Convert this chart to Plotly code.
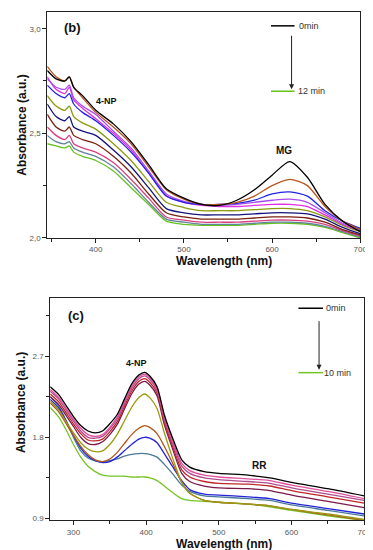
import plotly.graph_objects as go

W, H = 373, 550

# ---------- Panel (b) data ----------
wl_b = [345, 355, 365, 370, 375, 385, 400, 420, 440, 460, 480, 500, 520, 540, 560, 580, 600, 620, 640, 660, 680, 700]
b_black   = [2.80, 2.76, 2.75, 2.77, 2.72, 2.68, 2.61, 2.545, 2.46, 2.35, 2.235, 2.19, 2.16, 2.155, 2.18, 2.23, 2.30, 2.365, 2.29, 2.16, 2.08, 2.03]
b_brown   = [2.82, 2.77, 2.75, 2.77, 2.72, 2.67, 2.60, 2.53, 2.45, 2.34, 2.23, 2.185, 2.16, 2.16, 2.17, 2.20, 2.25, 2.28, 2.25, 2.15, 2.08, 2.04]
b_blue    = [2.73, 2.69, 2.67, 2.69, 2.64, 2.60, 2.56, 2.49, 2.41, 2.31, 2.20, 2.17, 2.16, 2.16, 2.165, 2.18, 2.21, 2.22, 2.20, 2.13, 2.08, 2.045]
b_violet  = [2.76, 2.72, 2.71, 2.73, 2.67, 2.63, 2.59, 2.51, 2.43, 2.32, 2.21, 2.175, 2.16, 2.155, 2.16, 2.17, 2.18, 2.185, 2.17, 2.12, 2.07, 2.04]
b_magenta = [2.77, 2.71, 2.69, 2.72, 2.66, 2.62, 2.57, 2.50, 2.42, 2.31, 2.20, 2.17, 2.155, 2.15, 2.15, 2.155, 2.16, 2.16, 2.15, 2.11, 2.065, 2.035]
b_olive   = [2.68, 2.63, 2.61, 2.63, 2.58, 2.55, 2.52, 2.45, 2.37, 2.27, 2.17, 2.145, 2.13, 2.13, 2.13, 2.135, 2.14, 2.14, 2.13, 2.10, 2.06, 2.03]
b_navy    = [2.64, 2.58, 2.56, 2.58, 2.53, 2.51, 2.49, 2.42, 2.34, 2.24, 2.14, 2.12, 2.11, 2.11, 2.11, 2.115, 2.12, 2.12, 2.115, 2.09, 2.05, 2.02]
b_maroon  = [2.59, 2.53, 2.51, 2.53, 2.49, 2.47, 2.45, 2.39, 2.31, 2.21, 2.12, 2.10, 2.09, 2.09, 2.09, 2.095, 2.10, 2.10, 2.095, 2.075, 2.04, 2.015]
b_pink    = [2.53, 2.49, 2.47, 2.49, 2.45, 2.43, 2.41, 2.36, 2.28, 2.19, 2.10, 2.085, 2.075, 2.075, 2.075, 2.08, 2.085, 2.085, 2.08, 2.065, 2.035, 2.01]
b_gray    = [2.49, 2.46, 2.45, 2.46, 2.43, 2.41, 2.39, 2.34, 2.26, 2.17, 2.09, 2.075, 2.065, 2.065, 2.065, 2.07, 2.075, 2.075, 2.07, 2.055, 2.03, 2.005]
b_green   = [2.45, 2.44, 2.43, 2.44, 2.41, 2.39, 2.37, 2.32, 2.24, 2.16, 2.08, 2.065, 2.06, 2.06, 2.06, 2.065, 2.07, 2.07, 2.065, 2.05, 2.025, 2.0]

b_series = [b_black, b_brown, b_blue, b_violet, b_magenta, b_olive, b_navy, b_maroon, b_pink, b_gray, b_green]
b_colors = ["#000000", "#b8561e", "#2323e6", "#a84cf0", "#e030e0", "#8c9a10", "#14147e", "#7a2010", "#d8407e", "#60849c", "#66c21e"]

# ---------- Panel (c) data ----------
wl_c = [268, 280, 290, 300, 310, 320, 330, 340, 350, 360, 370, 380, 390, 398, 405, 415, 425, 436, 449, 460, 480, 500, 540, 570, 600, 650, 700]
c_black  = [2.36, 2.27, 2.15, 2.03, 1.93, 1.87, 1.85, 1.87, 1.95, 2.05, 2.22, 2.39, 2.49, 2.52, 2.48, 2.36, 2.05, 1.80, 1.55, 1.47, 1.42, 1.40, 1.38, 1.35, 1.30, 1.23, 1.15]
c_pink   = [2.33, 2.24, 2.12, 2.00, 1.90, 1.83, 1.81, 1.83, 1.91, 2.02, 2.19, 2.36, 2.47, 2.50, 2.46, 2.34, 2.03, 1.77, 1.51, 1.43, 1.38, 1.36, 1.34, 1.32, 1.27, 1.20, 1.12]
c_mauve  = [2.31, 2.22, 2.10, 1.98, 1.87, 1.80, 1.79, 1.81, 1.89, 2.00, 2.17, 2.34, 2.45, 2.48, 2.44, 2.32, 2.00, 1.74, 1.48, 1.40, 1.35, 1.33, 1.31, 1.29, 1.24, 1.17, 1.10]
c_red    = [2.28, 2.19, 2.07, 1.95, 1.84, 1.77, 1.76, 1.78, 1.86, 1.97, 2.14, 2.31, 2.42, 2.45, 2.41, 2.29, 1.97, 1.71, 1.44, 1.36, 1.31, 1.29, 1.28, 1.26, 1.21, 1.14, 1.07]
c_purple = [2.25, 2.16, 2.04, 1.92, 1.80, 1.73, 1.72, 1.75, 1.83, 1.94, 2.11, 2.28, 2.39, 2.42, 2.38, 2.26, 1.94, 1.68, 1.40, 1.31, 1.26, 1.24, 1.23, 1.21, 1.16, 1.09, 1.02]
c_olive  = [2.20, 2.10, 1.97, 1.85, 1.74, 1.67, 1.64, 1.65, 1.72, 1.83, 1.98, 2.13, 2.24, 2.28, 2.24, 2.12, 1.85, 1.58, 1.30, 1.18, 1.10, 1.08, 1.06, 1.04, 1.00, 0.95, 0.89]
c_brown  = [2.18, 2.08, 1.95, 1.82, 1.70, 1.61, 1.55, 1.53, 1.56, 1.63, 1.73, 1.83, 1.90, 1.93, 1.91, 1.84, 1.70, 1.52, 1.30, 1.18, 1.10, 1.08, 1.06, 1.04, 1.00, 0.94, 0.88]
c_blue   = [2.22, 2.12, 1.98, 1.82, 1.68, 1.59, 1.54, 1.52, 1.53, 1.58, 1.65, 1.72, 1.78, 1.80, 1.79, 1.74, 1.62, 1.48, 1.32, 1.22, 1.17, 1.16, 1.14, 1.12, 1.07, 1.01, 0.95]
c_gray   = [2.25, 2.14, 1.98, 1.80, 1.65, 1.57, 1.54, 1.53, 1.54, 1.56, 1.59, 1.61, 1.62, 1.62, 1.61, 1.58, 1.50, 1.40, 1.27, 1.20, 1.15, 1.14, 1.12, 1.10, 1.05, 0.99, 0.93]
c_green  = [2.13, 2.02, 1.88, 1.72, 1.58, 1.48, 1.42, 1.38, 1.37, 1.37, 1.37, 1.36, 1.36, 1.36, 1.35, 1.32, 1.26, 1.19, 1.12, 1.10, 1.09, 1.08, 1.06, 1.03, 0.99, 0.93, 0.88]

c_series = [c_black, c_pink, c_mauve, c_red, c_purple, c_olive, c_brown, c_blue, c_gray, c_green]
c_colors = ["#000000", "#e0509c", "#b04c90", "#c02828", "#7a1a4a", "#9a9a12", "#b0561a", "#2424d8", "#4a7a98", "#74c424"]

# tick labels
b_yticks = [2.0, 2.5, 3.0]
b_yticktext = ["2,0", "2,5", "3,0"]
b_xticks = [400, 500, 600, 700]
c_yticks = [0.9, 1.8, 2.7]
c_yticktext = ["0.9", "1.8", "2.7"]
c_xticks = [300, 400, 500, 600, 700]

fig = go.Figure()

for ys, col in reversed(list(zip(b_series, b_colors))):
    fig.add_trace(go.Scatter(x=wl_b, y=ys, mode="lines",
                             line=dict(color=col, width=1.3, shape="spline", smoothing=0.7),
                             xaxis="x", yaxis="y", showlegend=False, hoverinfo="skip"))
for ys, col in reversed(list(zip(c_series, c_colors))):
    fig.add_trace(go.Scatter(x=wl_c, y=ys, mode="lines",
                             line=dict(color=col, width=1.3, shape="spline", smoothing=0.7),
                             xaxis="x2", yaxis="y2", showlegend=False, hoverinfo="skip"))

def px(x):
    return x / W

def py(y):
    return 1 - y / H

tickfont = dict(family="Arial, Liberation Sans", size=8, color="#555555")
axis_common = dict(showline=True, linecolor="#222222", linewidth=1, mirror=True,
                   ticks="outside", ticklen=4, tickcolor="#222222", showgrid=False,
                   zeroline=False, tickfont=tickfont)

fig.update_layout(
    width=W, height=H, margin=dict(l=0, r=0, t=0, b=0),
    paper_bgcolor="white", plot_bgcolor="white", showlegend=False,
    xaxis=dict(domain=[px(40), px(359)], range=[345, 700], anchor="y",
               tickvals=b_xticks, minor=dict(dtick=50, ticks="outside", ticklen=3, tickcolor="#222222"),
               **axis_common),
    yaxis=dict(domain=[py(232), py(4)], range=[2.0, 3.08], anchor="x",
               tickvals=b_yticks, ticktext=b_yticktext,
               minor=dict(dtick=0.25, ticks="outside", ticklen=3, tickcolor="#222222"),
               **axis_common),
    xaxis2=dict(domain=[px(43), px(363)], range=[268, 700], anchor="y2",
                tickvals=c_xticks, minor=dict(dtick=50, ticks="outside", ticklen=3, tickcolor="#222222"),
                **axis_common),
    yaxis2=dict(domain=[py(517), py(293)], range=[0.88, 3.34], anchor="x2",
                tickvals=c_yticks, ticktext=c_yticktext,
                minor=dict(tick0=0.45, dtick=0.45, ticks="outside", ticklen=3, tickcolor="#222222"),
                **axis_common),
)

font_family = "Arial, Liberation Sans"
ann = []
def text(x, y, s, size=12, color="#111111", angle=0, xanchor="center"):
    ann.append(dict(x=px(x), y=py(y), xref="paper", yref="paper", text=s, showarrow=False,
                    font=dict(family=font_family, size=size, color=color), textangle=angle,
                    xanchor=xanchor, yanchor="middle"))

# axis titles
text(220, 255, "<b>Wavelength (nm)</b>", 12)
text(14, 118, "<b>Absorbance (a.u.)</b>", 12, angle=-90)
text(220, 541, "<b>Wavelength (nm)</b>", 12)
text(14, 398, "<b>Absorbance (a.u.)</b>", 12, angle=-90)

# panel labels
text(66, 20, "<b>(b)</b>", 13)
text(69, 310, "<b>(c)</b>", 13)

# peak labels
text(100, 94, "<b>4-NP</b>", 9)
text(281, 144, "<b>MG</b>", 10)
text(131, 358, "<b>4-NP</b>", 9)
text(256, 462, "<b>RR</b>", 10)

# legend texts
text(295, 18, "0min", 9, color="#333333", xanchor="left")
text(293, 84, "12 min", 9, color="#333333", xanchor="left")
text(322, 303, "0min", 9, color="#333333", xanchor="left")
text(320, 368, "10 min", 9, color="#333333", xanchor="left")

# arrows (pixel offsets for tail)
ann.append(dict(x=px(289), y=py(82), ax=0, ay=-55, xref="paper", yref="paper",
                showarrow=True, arrowhead=2, arrowsize=1,
                arrowwidth=1, arrowcolor="#222222", text=""))
ann.append(dict(x=px(317), y=py(365), ax=0, ay=-50, xref="paper", yref="paper",
                showarrow=True, arrowhead=2, arrowsize=1,
                arrowwidth=1, arrowcolor="#222222", text=""))
fig.update_layout(annotations=ann)

shapes = [
    dict(type="line", xref="paper", yref="paper", x0=px(268), x1=px(292), y0=py(18), y1=py(18),
         line=dict(color="#000000", width=1.5)),
    dict(type="line", xref="paper", yref="paper", x0=px(268), x1=px(292), y0=py(84), y1=py(84),
         line=dict(color="#66c21e", width=1.5)),
    dict(type="line", xref="paper", yref="paper", x0=px(296), x1=px(321), y0=py(303), y1=py(303),
         line=dict(color="#000000", width=1.5)),
    dict(type="line", xref="paper", yref="paper", x0=px(296), x1=px(321), y0=py(368), y1=py(368),
         line=dict(color="#74c424", width=1.5)),
]
fig.update_layout(shapes=shapes)

fig.write_html("out.html")
